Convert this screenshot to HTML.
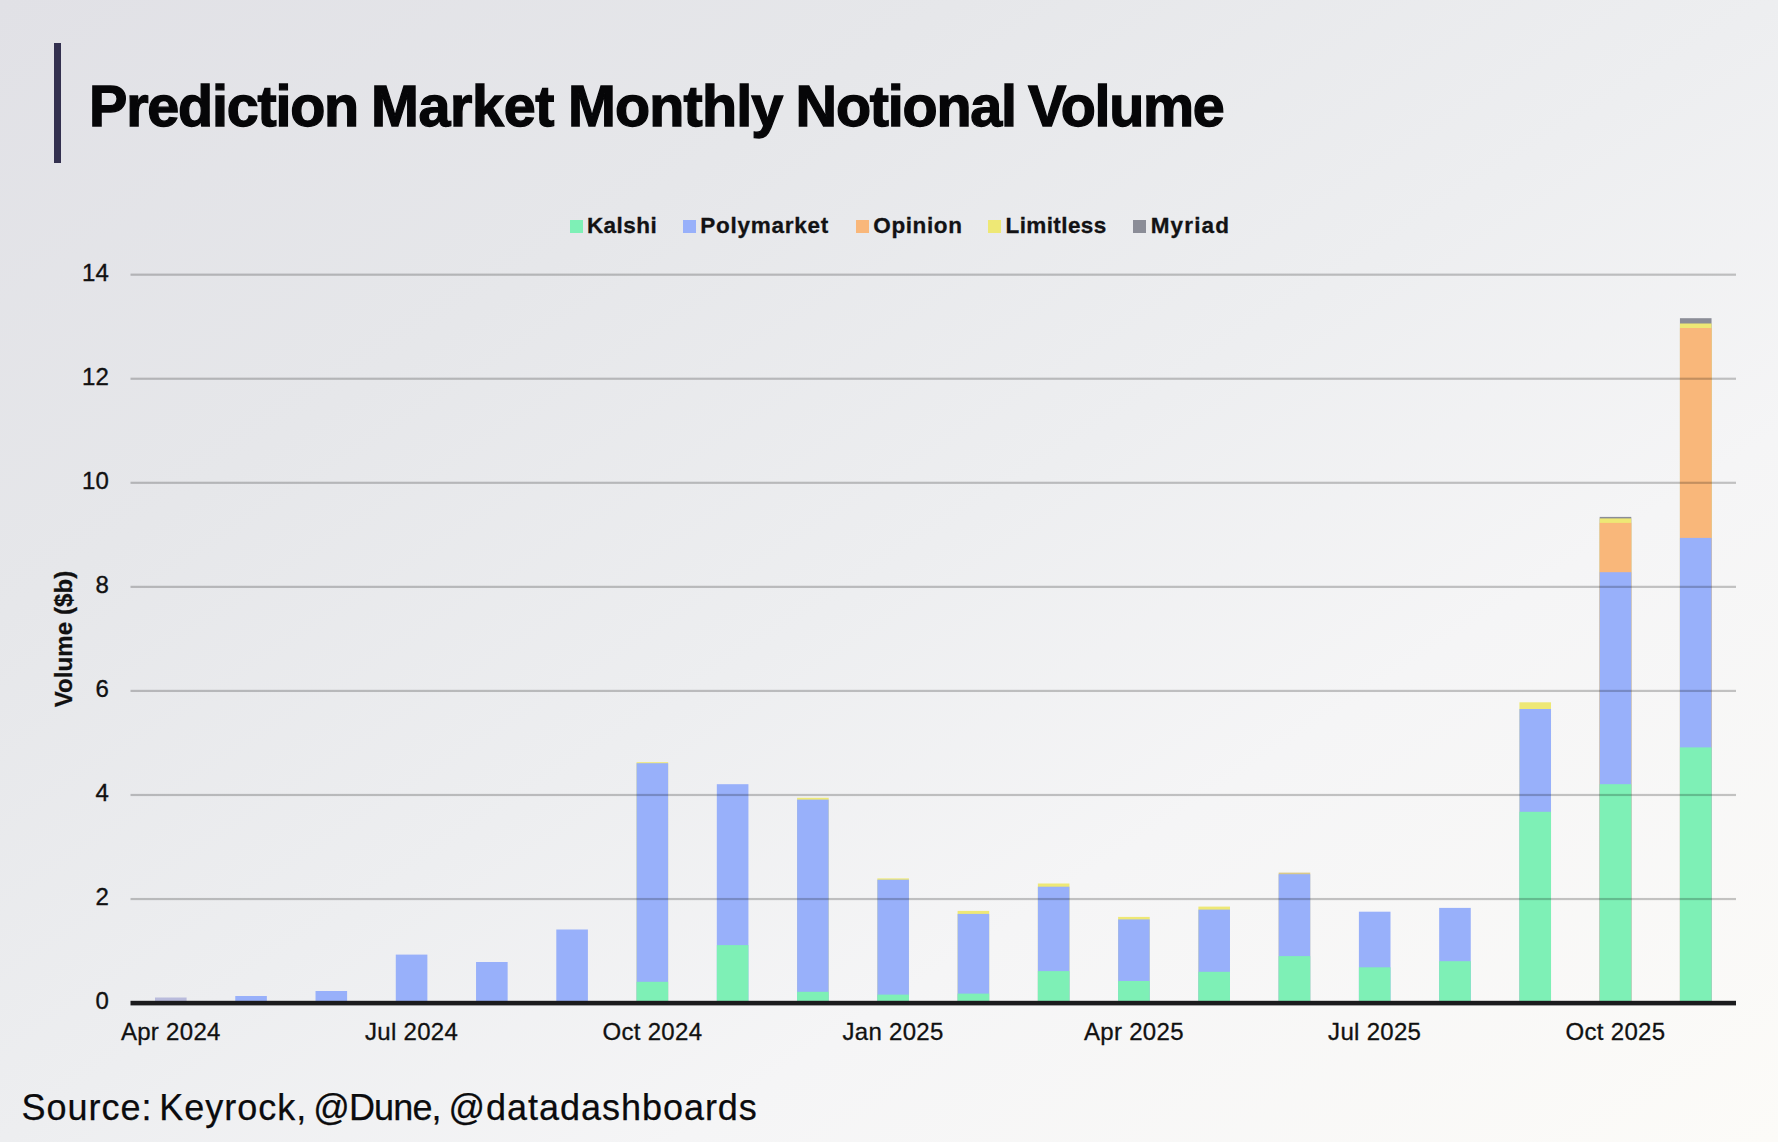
<!DOCTYPE html>
<html><head><meta charset="utf-8"><title>Prediction Market Monthly Notional Volume</title>
<style>
html,body{margin:0;padding:0;}
body{width:1778px;height:1142px;overflow:hidden;position:relative;
background:linear-gradient(to bottom right,#e1e1e6 0%,#e6e7ea 27%,#edeef0 50%,#f5f5f6 69%,#fcfbf8 100%);
font-family:"Liberation Sans",sans-serif;color:#0b0b0d;}
.bar{position:absolute;left:54px;top:43px;width:7px;height:120px;background:#33304f;}
h1{position:absolute;left:0;top:66.2px;margin:0;font-size:57.5px;font-weight:700;letter-spacing:-1.22px;-webkit-text-stroke:1.3px #060608;white-space:nowrap;line-height:80px;color:#060608;}
h1 span{position:absolute;top:0;}
.sw{position:absolute;top:220px;width:13px;height:13px;}
.lt{position:absolute;top:212.4px;font-size:22.5px;-webkit-text-stroke:0.3px #121214;font-weight:700;line-height:28px;white-space:nowrap;color:#121214;}
.yt{position:absolute;left:60px;width:48.8px;-webkit-text-stroke:0.35px #111;text-align:right;font-size:24px;line-height:26px;color:#111;}
.xt{position:absolute;top:1017.8px;-webkit-text-stroke:0.3px #111;width:200px;text-align:center;font-size:24px;letter-spacing:0.3px;line-height:28px;color:#111;}
.ylab{position:absolute;left:64.1px;top:638.8px;width:0;height:0;}
.ylab span{position:absolute;transform:translate(-50%,-50%) rotate(-90deg);white-space:nowrap;font-size:24px;letter-spacing:0.1px;font-weight:700;color:#111;-webkit-text-stroke:0.3px #111;}
.src{position:absolute;top:1086px;-webkit-text-stroke:0.25px #0b0b0d;font-size:36px;letter-spacing:0.36px;line-height:44px;white-space:nowrap;color:#0b0b0d;}
svg{position:absolute;left:0;top:0;}
</style></head><body>
<div class="bar"></div>
<h1><span style="left:89.0px;letter-spacing:-1.22px">Prediction</span><span style="left:371.0px;letter-spacing:-0.4px">Market</span><span style="left:568.0px;letter-spacing:-0.85px">Monthly</span><span style="left:795.6px;letter-spacing:-1.22px">Notional</span><span style="left:1028.0px;letter-spacing:-1.35px">Volume</span></h1>
<div class="sw" style="left:570px;background:#7ef0b6"></div><div class="lt" style="left:586.9px;letter-spacing:0.45px">Kalshi</div><div class="sw" style="left:683px;background:#98b0fa"></div><div class="lt" style="left:700.3px;letter-spacing:0.75px">Polymarket</div><div class="sw" style="left:856px;background:#f9b77a"></div><div class="lt" style="left:873.3px;letter-spacing:0.6px">Opinion</div><div class="sw" style="left:988.2px;background:#eee875"></div><div class="lt" style="left:1005.5px;letter-spacing:0.4px">Limitless</div><div class="sw" style="left:1133.4px;background:#8b8d97"></div><div class="lt" style="left:1150.7px;letter-spacing:1.15px">Myriad</div>
<svg width="1778" height="1142" viewBox="0 0 1778 1142">
<rect x="155.00" y="997.50" width="31.6" height="5.60" fill="#b9bbdc"/>
<rect x="235.26" y="996.00" width="31.6" height="7.10" fill="#98b0fa"/>
<rect x="315.52" y="991.00" width="31.6" height="12.10" fill="#98b0fa"/>
<rect x="395.78" y="954.60" width="31.6" height="48.50" fill="#98b0fa"/>
<rect x="476.04" y="962.00" width="31.6" height="41.10" fill="#98b0fa"/>
<rect x="556.30" y="929.50" width="31.6" height="73.60" fill="#98b0fa"/>
<rect x="636.56" y="762.20" width="31.6" height="240.90" fill="#eee875"/>
<rect x="636.56" y="763.20" width="31.6" height="239.90" fill="#98b0fa"/>
<rect x="636.56" y="981.80" width="31.6" height="21.30" fill="#7ef0b6"/>
<rect x="716.82" y="784.20" width="31.6" height="218.90" fill="#98b0fa"/>
<rect x="716.82" y="945.10" width="31.6" height="58.00" fill="#7ef0b6"/>
<rect x="797.08" y="797.80" width="31.6" height="205.30" fill="#eee875"/>
<rect x="797.08" y="799.60" width="31.6" height="203.50" fill="#98b0fa"/>
<rect x="797.08" y="991.80" width="31.6" height="11.30" fill="#7ef0b6"/>
<rect x="877.34" y="878.40" width="31.6" height="124.70" fill="#eee875"/>
<rect x="877.34" y="879.70" width="31.6" height="123.40" fill="#98b0fa"/>
<rect x="877.34" y="994.60" width="31.6" height="8.50" fill="#7ef0b6"/>
<rect x="957.60" y="910.90" width="31.6" height="92.20" fill="#eee875"/>
<rect x="957.60" y="913.90" width="31.6" height="89.20" fill="#98b0fa"/>
<rect x="957.60" y="993.60" width="31.6" height="9.50" fill="#7ef0b6"/>
<rect x="1037.86" y="883.50" width="31.6" height="119.60" fill="#eee875"/>
<rect x="1037.86" y="886.70" width="31.6" height="116.40" fill="#98b0fa"/>
<rect x="1037.86" y="971.10" width="31.6" height="32.00" fill="#7ef0b6"/>
<rect x="1118.12" y="916.90" width="31.6" height="86.20" fill="#eee875"/>
<rect x="1118.12" y="919.40" width="31.6" height="83.70" fill="#98b0fa"/>
<rect x="1118.12" y="981.00" width="31.6" height="22.10" fill="#7ef0b6"/>
<rect x="1198.38" y="906.60" width="31.6" height="96.50" fill="#eee875"/>
<rect x="1198.38" y="909.60" width="31.6" height="93.50" fill="#98b0fa"/>
<rect x="1198.38" y="971.80" width="31.6" height="31.30" fill="#7ef0b6"/>
<rect x="1278.64" y="872.60" width="31.6" height="130.50" fill="#d9c98a"/>
<rect x="1278.64" y="874.20" width="31.6" height="128.90" fill="#98b0fa"/>
<rect x="1278.64" y="956.10" width="31.6" height="47.00" fill="#7ef0b6"/>
<rect x="1358.90" y="911.70" width="31.6" height="91.40" fill="#98b0fa"/>
<rect x="1358.90" y="967.30" width="31.6" height="35.80" fill="#7ef0b6"/>
<rect x="1439.16" y="907.90" width="31.6" height="95.20" fill="#98b0fa"/>
<rect x="1439.16" y="961.20" width="31.6" height="41.90" fill="#7ef0b6"/>
<rect x="1519.42" y="702.30" width="31.6" height="300.80" fill="#eee875"/>
<rect x="1519.42" y="709.00" width="31.6" height="294.10" fill="#98b0fa"/>
<rect x="1519.42" y="811.80" width="31.6" height="191.30" fill="#7ef0b6"/>
<rect x="1599.68" y="516.90" width="31.6" height="486.20" fill="#8b8d97"/>
<rect x="1599.68" y="518.40" width="31.6" height="484.70" fill="#eee875"/>
<rect x="1599.68" y="522.90" width="31.6" height="480.20" fill="#f9b77a"/>
<rect x="1599.68" y="572.20" width="31.6" height="430.90" fill="#98b0fa"/>
<rect x="1599.68" y="784.20" width="31.6" height="218.90" fill="#7ef0b6"/>
<rect x="1679.94" y="318.20" width="31.6" height="684.90" fill="#8b8d97"/>
<rect x="1679.94" y="323.50" width="31.6" height="679.60" fill="#eee875"/>
<rect x="1679.94" y="328.00" width="31.6" height="675.10" fill="#f9b77a"/>
<rect x="1679.94" y="537.90" width="31.6" height="465.20" fill="#98b0fa"/>
<rect x="1679.94" y="747.40" width="31.6" height="255.70" fill="#7ef0b6"/>
<rect x="130.5" y="273.58" width="1605.5" height="2.2" fill="#000" fill-opacity="0.215"/>
<rect x="130.5" y="377.64" width="1605.5" height="2.2" fill="#000" fill-opacity="0.215"/>
<rect x="130.5" y="481.70" width="1605.5" height="2.2" fill="#000" fill-opacity="0.215"/>
<rect x="130.5" y="585.76" width="1605.5" height="2.2" fill="#000" fill-opacity="0.215"/>
<rect x="130.5" y="689.82" width="1605.5" height="2.2" fill="#000" fill-opacity="0.215"/>
<rect x="130.5" y="793.88" width="1605.5" height="2.2" fill="#000" fill-opacity="0.215"/>
<rect x="130.5" y="897.94" width="1605.5" height="2.2" fill="#000" fill-opacity="0.215"/>
<rect x="130.5" y="1000.80" width="1605.5" height="4.6" fill="#1b1b1d"/>
</svg>
<div class="yt" style="top:259.7px">14</div><div class="yt" style="top:363.7px">12</div><div class="yt" style="top:467.8px">10</div><div class="yt" style="top:571.9px">8</div><div class="yt" style="top:675.9px">6</div><div class="yt" style="top:780.0px">4</div><div class="yt" style="top:884.0px">2</div><div class="yt" style="top:988.1px">0</div>
<div class="ylab"><span>Volume ($b)</span></div>
<div class="xt" style="left:70.8px">Apr 2024</div><div class="xt" style="left:311.6px">Jul 2024</div><div class="xt" style="left:552.4px">Oct 2024</div><div class="xt" style="left:793.1px">Jan 2025</div><div class="xt" style="left:1033.9px">Apr 2025</div><div class="xt" style="left:1274.7px">Jul 2025</div><div class="xt" style="left:1515.5px">Oct 2025</div>
<div class="src" style="left:21.4px;letter-spacing:1.0px">Source:</div><div class="src" style="left:159.3px;letter-spacing:1.0px">Keyrock,</div><div class="src" style="left:313.2px;letter-spacing:-0.84px">@Dune,</div><div class="src" style="left:448.5px;letter-spacing:0.97px">@datadashboards</div>
</body></html>
